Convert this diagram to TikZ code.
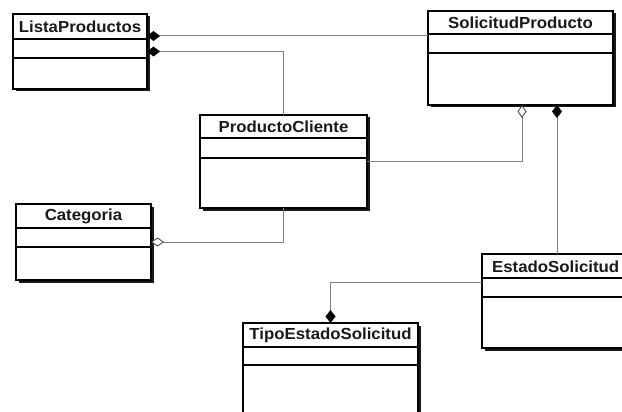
\documentclass[tikz,border=0pt]{standalone}
\usepackage{fontspec}
\newfontfamily\umlfont[FakeStretch=1.05]{Liberation Sans}
\usetikzlibrary{arrows.meta,shadows}
\tikzset{
  umlbox/.style={draw=black, line width=1.3pt, fill=white, rectangle, inner sep=0pt, outer sep=0pt,
    anchor=north west, drop shadow={shadow xshift=2.5pt, shadow yshift=-2.5pt, fill=black, opacity=0.9}},
  umltitle/.style={font=\umlfont\bfseries\fontsize{16}{18}\selectfont, inner sep=0pt, text=black!90},
  sep/.style={line width=1.3pt, black},
  conn/.style={draw=black!50, line width=1pt},
  comp/.style={{Diamond[length=13pt,width=10pt,fill=black,color=black]}-},
  aggr/.style={{Diamond[length=13pt,width=9pt,fill=white,color=black!70,line width=0.9pt]}-}
}
\begin{document}
\begin{tikzpicture}[x=1pt,y=-1pt]
\useasboundingbox (0,0) rectangle (622,412);
\clip (0,0) rectangle (622,412);
\fill[white] (0,0) rectangle (622,412);

% classes
\node[umlbox, minimum width=134pt, minimum height=75pt] (lista) at (13,14) {};
\node[umlbox, minimum width=185pt, minimum height=94pt] (solic) at (428,11) {};
\node[umlbox, minimum width=167pt, minimum height=93pt] (pc) at (200,115) {};
\node[umlbox, minimum width=135pt, minimum height=76pt] (cat) at (16,204) {};
\node[umlbox, minimum width=160pt, minimum height=94pt] (est) at (482,254) {};
\node[umlbox, minimum width=175pt, minimum height=120pt] (tipo) at (243,323) {};

% compartments
\foreach \n/\a/\b in {lista/25/44, solic/23/42, pc/23/43, cat/24/43, est/24/43, tipo/24/42}{
  \draw[sep] ([yshift=-\a pt]\n.north west) -- ([yshift=-\a pt]\n.north east);
  \draw[sep] ([yshift=-\b pt]\n.north west) -- ([yshift=-\b pt]\n.north east);
}

% class names
\node[umltitle] (lista-t) at ([yshift=-13pt]lista.north) {ListaProductos};
\node[umltitle] (solic-t) at ([yshift=-12pt]solic.north) {SolicitudProducto};
\node[umltitle] (pc-t) at ([yshift=-12pt]pc.north) {ProductoCliente};
\node[umltitle] (cat-t) at ([yshift=-12.5pt]cat.north) {Categoria};
\node[umltitle, anchor=west] (est-t) at ([xshift=10pt,yshift=-12.5pt]est.north west) {EstadoSolicitud};
\node[umltitle] (tipo-t) at ([yshift=-12.5pt]tipo.north) {TipoEstadoSolicitud};

% associations
\coordinate (la) at ([yshift=-22pt]lista.north east);
\draw[conn, comp] (la) -- (la -| solic.west);
\draw[conn, comp] (lista.east) -| (pc.north);
\draw[conn, aggr] (cat.east) -| (pc.south);
\draw[conn, aggr] ([xshift=1.5pt]solic.south) |- (pc.east);
\coordinate (sd) at ([xshift=-56pt]solic.south east);
\draw[conn, comp] (sd) -- (sd |- est.north);
\draw[conn, comp] (tipo.north) |- ([yshift=-28pt]est.north west);
\end{tikzpicture}
\end{document}
